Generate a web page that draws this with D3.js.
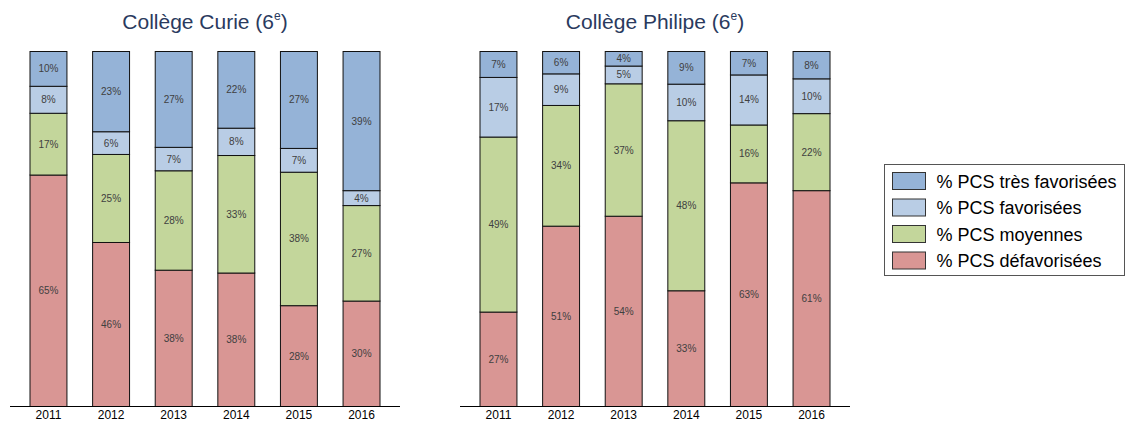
<!DOCTYPE html>
<html>
<head>
<meta charset="utf-8">
<script src="https://cdn.jsdelivr.net/npm/d3@7"></script>
<style>
  body { margin: 0; background: #fff; }
  svg { display: block; font-family: "Liberation Sans", Arial, sans-serif; }
</style>
</head>
<body>
<svg id="chart" width="1131" height="421"></svg>
<script>
const years = ['2011', '2012', '2013', '2014', '2015', '2016'];
const seriesNames = ['% PCS défavorisées', '% PCS moyennes', '% PCS favorisées', '% PCS très favorisées'];
const colors = ['#D99694', '#C3D69B', '#B9CDE5', '#95B3D7'];

// Collège Curie
const curieDefav = [65.2, 46.2, 38.4, 37.6, 28.4, 29.7];
const curieMoy = [17.4, 24.8, 28.0, 33.1, 37.6, 26.9];
const curieFav = [7.6, 6.4, 6.6, 7.7, 6.7, 4.2];
const curieTres = [9.8, 22.6, 27.0, 21.6, 27.3, 39.2];

// Collège Philipe
const philDefav = [26.6, 50.8, 53.6, 32.6, 63.0, 60.8];
const philMoy = [49.3, 34.0, 37.3, 47.9, 16.3, 21.7];
const philFav = [16.8, 8.9, 5.0, 10.3, 14.1, 9.8];
const philTres = [7.3, 6.3, 4.1, 9.2, 6.6, 7.7];

const svg = d3.select('#chart');

const y = d3.scaleLinear().domain([0, 100]).range([406.5, 51.5]);

function panel(title, x0, x1, cols) {
  const rows = years.map((yr, i) => {
    const r = { year: yr };
    seriesNames.forEach((s, k) => (r[s] = cols[k][i]));
    return r;
  });
  const stacked = d3.stack().keys(seriesNames)(rows);

  const x = d3.scaleBand().domain(years).range([x0 + 20, x1 - 20]).paddingInner(0.41).paddingOuter(0);

  const g = svg.append('g');

  // titre
  const t = g.append('text')
    .attr('x', (x0 + x1) / 2)
    .attr('y', 29)
    .attr('text-anchor', 'middle')
    .style('font-size', '21px')
    .style('fill', '#2A3A5E');
  t.append('tspan').text(title + ' (6');
  t.append('tspan').attr('dy', -9).style('font-size', '12px').text('e');
  t.append('tspan').attr('dy', 9).text(')');

  const layers = g.selectAll('.layer')
    .data(stacked)
    .enter()
    .append('g')
    .attr('class', 'layer')
    .style('fill', (d, i) => colors[i]);

  layers.selectAll('rect')
    .data(d => d)
    .enter()
    .append('rect')
    .attr('x', d => x(d.data.year))
    .attr('y', d => y(d[1]))
    .attr('width', x.bandwidth())
    .attr('height', d => y(d[0]) - y(d[1]))
    .style('stroke', '#111')
    .style('stroke-width', 1);

  layers.selectAll('.pct')
    .data(d => d)
    .enter()
    .append('text')
    .attr('class', 'pct')
    .attr('x', d => x(d.data.year) + x.bandwidth() / 2)
    .attr('y', d => (y(d[0]) + y(d[1])) / 2 + 3.5)
    .attr('text-anchor', 'middle')
    .style('font-size', '10px')
    .style('fill', '#404040')
    .text(d => Math.round(d[1] - d[0]) + '%');

  // axe
  const axis = g.append('g')
    .attr('transform', `translate(0,${y(0)})`)
    .call(d3.axisBottom(x).tickSize(0).tickPadding(4));
  axis.select('.domain').attr('d', `M${x0},0H${x1}`).style('stroke', '#000');
  axis.selectAll('text')
    .style('font-size', '12px')
    .style('font-family', '"Liberation Sans", Arial, sans-serif')
    .style('fill', '#000');
}

panel('Collège Curie', 10, 400, [curieDefav, curieMoy, curieFav, curieTres]);
panel('Collège Philipe', 460, 850, [philDefav, philMoy, philFav, philTres]);

// légende
const legend = svg.append('g').attr('transform', 'translate(884.5,164.5)');
legend.append('rect')
  .attr('width', 240)
  .attr('height', 111)
  .style('fill', '#fff')
  .style('stroke', '#555');

const order = [3, 2, 1, 0];
const items = legend.selectAll('.item')
  .data(order)
  .enter()
  .append('g')
  .attr('class', 'item')
  .attr('transform', (d, i) => `translate(8,${8 + i * 26.5})`);

items.append('rect')
  .attr('width', 33)
  .attr('height', 17)
  .style('fill', d => colors[d])
  .style('stroke', '#333');

items.append('text')
  .attr('x', 44)
  .attr('y', 15)
  .style('font-size', '18px')
  .style('fill', '#000')
  .text(d => seriesNames[d]);
</script>
</body>
</html>
